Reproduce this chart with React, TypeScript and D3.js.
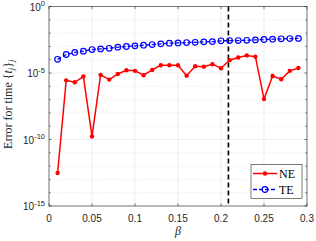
import React from "react";
import * as d3 from "d3";

const betas = [0.01,0.02,0.03,0.04,0.05,0.06,0.07,0.08,0.09,0.10,0.11,0.12,0.13,0.14,0.15,0.16,0.17,0.18,0.19,0.20,0.21,0.22,0.23,0.24,0.25,0.26,0.27,0.28,0.29];
const neValues = [3.0e-13,2.8e-6,2.0e-6,5.4e-6,1.7e-10,7.2e-6,3.2e-6,8.5e-6,1.6e-5,1.45e-5,6.8e-6,1.7e-5,3.8e-5,3.8e-5,3.8e-5,6.3e-6,3.2e-5,3.0e-5,4.6e-5,2.3e-5,9.1e-5,1.45e-4,2.1e-4,1.7e-4,1.1e-7,6.0e-6,3.4e-6,1.45e-5,2.4e-5];
const teValues = [1.07e-4,2.45e-4,3.5e-4,4.4e-4,5.8e-4,6.5e-4,7.2e-4,8.7e-4,9.8e-4,1.1e-3,1.23e-3,1.38e-3,1.55e-3,1.74e-3,1.82e-3,1.95e-3,2.04e-3,2.19e-3,2.29e-3,2.63e-3,2.75e-3,2.75e-3,2.88e-3,3.09e-3,3.31e-3,3.47e-3,3.72e-3,3.89e-3,3.98e-3];
const xTicks = [0,0.05,0.1,0.15,0.2,0.25,0.3];
const xTickLabels = ["0","0.05","0.1","0.15","0.2","0.25","0.3"];
const yTickExps = [0,-5,-10,-15];
const threshold = 0.2086;

const W = 316, H = 241;
const L = 49, R = 307, T = 6.5, B = 206;

export default function App() {
  const x = d3.scaleLinear().domain([0, 0.3]).range([L, R]);
  const y = d3.scaleLog().domain([1e-15, 1]).range([B, T]);
  const nePath = d3.line<number>().x((_, i) => x(betas[i])).y((d) => y(d))(neValues) as string;
  const tePath = d3.line<number>().x((_, i) => x(betas[i])).y((d) => y(d))(teValues) as string;
  const decades = d3.range(-15, 1);
  const axisColor = "#262626";
  const sans = "'Liberation Sans', Arial, Helvetica, sans-serif";
  const serif = "'Liberation Serif', 'DejaVu Serif', serif";
  return (
    <div style={{ position: "fixed", left: 0, top: 0 }}>
      <svg width={W} height={H} style={{ display: "block", background: "#fff" }}>
        {decades.filter((e) => e % 5 !== 0).map((e) => (
          <line key={"mg" + e} x1={L} x2={R} y1={y(Math.pow(10, e))} y2={y(Math.pow(10, e))} stroke="#d9d9d9" strokeWidth={0.6} strokeDasharray="1,1.5" />
        ))}
        {yTickExps.map((e) => (
          <line key={"yg" + e} x1={L} x2={R} y1={y(Math.pow(10, e))} y2={y(Math.pow(10, e))} stroke="#e3e3e3" strokeWidth={0.6} />
        ))}
        {xTicks.map((t) => (
          <line key={"xg" + t} x1={x(t)} x2={x(t)} y1={T} y2={B} stroke="#e3e3e3" strokeWidth={0.6} />
        ))}
        <rect x={L} y={T} width={R - L} height={B - T} fill="none" stroke={axisColor} strokeWidth={0.6} />
        {xTicks.map((t) => (
          <g key={"xt" + t}>
            <line x1={x(t)} x2={x(t)} y1={B} y2={B - 2.6} stroke={axisColor} strokeWidth={0.6} />
            <line x1={x(t)} x2={x(t)} y1={T} y2={T + 2.6} stroke={axisColor} strokeWidth={0.6} />
          </g>
        ))}
        {decades.map((e) => {
          const len = e % 5 === 0 ? 2.6 : 1.6;
          const yy = y(Math.pow(10, e));
          return (
            <g key={"yt" + e}>
              <line x1={L} x2={L + len} y1={yy} y2={yy} stroke={axisColor} strokeWidth={0.6} />
              <line x1={R} x2={R - len} y1={yy} y2={yy} stroke={axisColor} strokeWidth={0.6} />
            </g>
          );
        })}
        {xTicks.map((t, i) => (
          <text key={"xl" + t} x={x(t)} y={222} textAnchor="middle" fontFamily={sans} fontSize={10} fill={axisColor}>{xTickLabels[i]}</text>
        ))}
        {yTickExps.map((e) => (
          <text key={"yl" + e} x={45} y={y(Math.pow(10, e)) + 4} textAnchor="end" fontFamily={sans} fontSize={10} fill={axisColor}>
            10<tspan dy={-4.5} fontSize={7.5}>{String(e)}</tspan>
          </text>
        ))}
        <text x={x(0.15)} y={235} textAnchor="middle" fontFamily={serif} fontStyle="italic" fontSize={12} fill={axisColor}>β</text>
        <text transform={`translate(11.5,${(T + B) / 2 - 2}) rotate(-90)`} textAnchor="middle" fontFamily={serif} fontSize={12} fill={axisColor}>
          Error for time {"{"}<tspan fontStyle="italic">t</tspan><tspan fontStyle="italic" fontSize={8.5} dy={2}>j</tspan><tspan dy={-2}>{"}"}</tspan><tspan fontStyle="italic" fontSize={8.5} dy={2}>j</tspan>
        </text>
        <line x1={x(threshold)} x2={x(threshold)} y1={T} y2={B} stroke="#000" strokeWidth={1.6} strokeDasharray="5,3" />
        <path d={tePath} fill="none" stroke="#0000ff" strokeWidth={1.3} strokeDasharray="4,2" />
        {teValues.map((v, i) => (
          <circle key={"tc" + i} cx={x(betas[i])} cy={y(v)} r={2.8} fill="none" stroke="#0000ff" strokeWidth={1.2} />
        ))}
        <path d={nePath} fill="none" stroke="#ff0000" strokeWidth={1.5} />
        {neValues.map((v, i) => (
          <circle key={"nc" + i} cx={x(betas[i])} cy={y(v)} r={2.2} fill="#ff0000" />
        ))}
        <rect x={251} y={164.5} width={51} height={34} fill="#fff" stroke={axisColor} strokeWidth={0.6} />
        <line x1={253} x2={277} y1={173.5} y2={173.5} stroke="#ff0000" strokeWidth={1.5} />
        <circle cx={265} cy={173.5} r={2.2} fill="#ff0000" />
        <text x={279} y={177.5} fontFamily={serif} fontSize={12} fill="#000">NE</text>
        <line x1={253} x2={277} y1={189.5} y2={189.5} stroke="#0000ff" strokeWidth={1.3} strokeDasharray="4,2" />
        <circle cx={265} cy={189.5} r={2.8} fill="none" stroke="#0000ff" strokeWidth={1.2} />
        <text x={279} y={193.5} fontFamily={serif} fontSize={12} fill="#000">TE</text>
      </svg>
    </div>
  );
}
